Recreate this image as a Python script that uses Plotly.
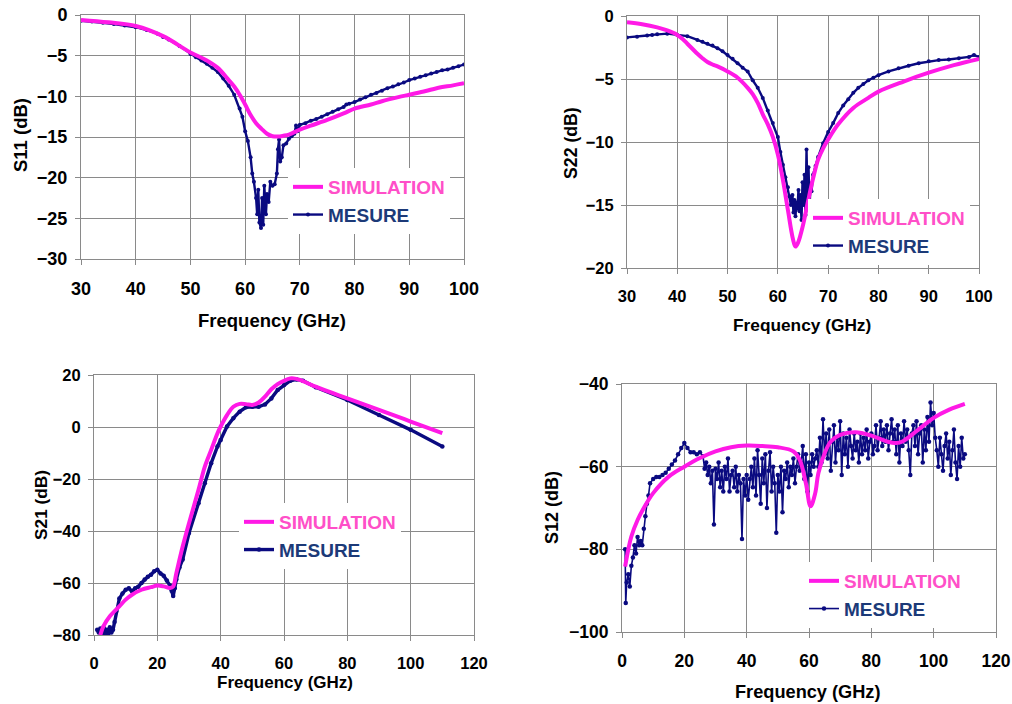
import plotly.graph_objects as go

# ---------------- DATA ----------------
# S11 (30-100 GHz)
s11_sim_f = [30, 35, 40, 45, 50, 53, 55, 57, 58, 59, 60, 61, 62, 63, 64, 65, 66, 67, 68, 70, 72, 75, 78, 80, 83, 85, 88, 90, 93, 95, 98, 100]
s11_sim_db = [-0.6, -0.9, -1.35, -2.6, -4.6, -5.6, -6.5, -8.0, -8.8, -9.8, -11.0, -12.3, -13.3, -14.0, -14.6, -14.9, -14.95, -14.85, -14.7, -14.1, -13.6, -12.9, -12.1, -11.5, -11.0, -10.6, -10.1, -9.8, -9.35, -9.0, -8.65, -8.4]
s11_mes_f = [30, 32, 34, 36, 38, 40, 42, 44, 45, 46, 48, 50, 51, 52, 53, 54, 55, 56, 57, 58, 59, 59.5, 60, 60.5, 61, 61.3, 61.6, 62, 62.2, 62.4, 62.6, 62.9, 63.1, 63.3, 63.5, 63.8, 64.0, 64.3, 64.6, 65.0, 65.4, 65.8, 66.0, 66.2, 66.4, 66.7, 67.0, 67.5, 68, 68.5, 69, 69.3, 69.6, 70, 71, 72, 73, 74, 75, 76, 77, 78, 78.5, 79, 80, 81, 82, 83, 84, 85, 86, 87, 88, 89, 90, 91, 92, 93, 94, 95, 96, 97, 98, 99, 100]
s11_mes_db = [-0.7, -0.8, -0.95, -1.1, -1.3, -1.5, -1.85, -2.3, -2.7, -3.0, -3.8, -4.8, -5.2, -5.6, -6.0, -6.5, -7.0, -7.8, -8.7, -9.8, -11.5, -12.5, -14.3, -15.5, -17.5, -19.5, -20.5, -22.5, -24.5, -21.5, -25.5, -26.2, -22.5, -25.8, -21.0, -24.5, -22.0, -23.0, -20.5, -21.0, -20.8, -19.5, -16.5, -15.3, -18.0, -17.5, -16.0, -15.8, -15.2, -14.9, -14.6, -13.6, -14.3, -13.5, -13.3, -13.0, -12.8, -12.5, -12.2, -11.9, -11.6, -11.3, -11.0, -10.9, -10.7, -10.4, -10.1, -9.8, -9.6, -9.3, -9.0, -8.8, -8.5, -8.3, -8.0, -7.8, -7.6, -7.4, -7.2, -7.0, -6.8, -6.7, -6.5, -6.3, -6.1]

# S22 (30-100 GHz)
s22_sim_f = [30, 33, 36, 38, 40, 41, 42, 43, 44, 45, 46, 47, 48, 50, 52, 54, 55, 56, 57, 58, 59, 60, 61, 62, 63, 63.5, 64, 65, 66, 67, 68, 69, 70, 72, 75, 78, 80, 85, 90, 95, 100]
s22_sim_db = [-0.5, -0.65, -0.9, -1.15, -1.5, -1.8, -2.2, -2.6, -3.0, -3.35, -3.65, -3.85, -4.0, -4.4, -4.9, -5.7, -6.2, -6.9, -7.8, -8.6, -9.6, -11.0, -13.0, -15.4, -17.7, -18.3, -18.0, -16.6, -14.7, -12.9, -11.4, -10.5, -9.8, -8.6, -7.3, -6.5, -6.0, -5.2, -4.5, -3.9, -3.4]
s22_mes_f = [30, 32, 34, 35, 36, 38, 40, 42, 44, 45, 46, 47, 48, 49, 50, 51, 52, 53, 54, 55, 56, 57, 58, 59, 60, 60.5, 61, 61.5, 62.0, 62.3, 62.6, 62.9, 63.1, 63.3, 63.5, 63.7, 63.9, 64.1, 64.3, 64.5, 64.7, 64.9, 65.1, 65.3, 65.5, 65.7, 65.9, 66.1, 66.3, 66.5, 66.7, 67, 67.5, 68, 69, 70, 71, 72, 73, 74, 75, 76, 77, 78, 79, 80, 82, 84, 86, 88, 90, 92, 94, 96, 98, 99, 100]
s22_mes_db = [-1.7, -1.65, -1.55, -1.5, -1.45, -1.4, -1.5, -1.6, -1.9, -2.05, -2.2, -2.35, -2.55, -2.8, -3.1, -3.4, -3.75, -4.1, -4.4, -5.1, -5.7, -6.5, -7.5, -8.5, -9.6, -10.8, -11.8, -12.8, -13.6, -14.3, -15.0, -14.2, -15.6, -14.6, -15.9, -14.8, -15.3, -13.8, -15.5, -14.2, -16.2, -13.2, -15.0, -12.6, -15.8, -10.6, -14.5, -12.0, -15.2, -13.3, -13.9, -12.6, -11.9, -11.2, -10.1, -9.2, -8.5, -7.7, -7.1, -6.6, -6.1, -5.7, -5.4, -5.1, -4.9, -4.7, -4.4, -4.15, -3.95, -3.75, -3.6, -3.5, -3.45, -3.35, -3.25, -3.1, -3.25]

# S21 (0-110 GHz)
s21_sim_f = [2, 3, 5, 8, 10, 12, 15, 18, 20, 22, 24, 25, 26, 28, 30, 33, 35, 37, 39, 40, 42, 44, 46, 48, 50, 52, 54, 56, 58, 60, 62, 63, 65, 70, 80, 90, 100, 110]
s21_sim_db = [-80, -76.6, -72.8, -69, -66.4, -64.5, -62.6, -61.6, -61, -61.3, -61.9, -61.3, -56.2, -46, -37, -24.2, -15.2, -8.8, -2.4, 0.2, 4.6, 7.8, 8.9, 8.8, 8.5, 9.4, 11.7, 14.5, 16.5, 17.8, 18.7, 18.7, 18.1, 15.5, 11, 6.6, 2.1, -2.4]
s21_mes_f = [1, 1.5, 2, 2.5, 3, 3.5, 4, 4.5, 5, 5.5, 6, 6.5, 7, 8, 9, 10, 11, 12, 13, 14, 15, 16, 17, 18, 19, 20, 21, 22, 23, 24, 24.5, 25, 25.5, 26, 27, 28, 30, 33, 35, 37, 39, 40, 42, 44, 46, 48, 50, 52, 54, 56, 58, 60, 62, 64, 66, 70, 80, 90, 100, 110]
s21_mes_db = [-78, -79, -77.5, -80, -77, -79.5, -78, -80, -77, -79, -78, -75, -71, -66, -64, -62.6, -62.0, -63.2, -62.0, -61.4, -60, -58.7, -57.6, -56.8, -55.5, -54.9, -56.3, -57.2, -59, -61, -63, -65, -62, -58.7, -54, -51, -40.8, -29.3, -21.6, -13.9, -7.5, -5, 0.2, 3.4, 5.9, 7.6, 7.8, 7.8, 8.7, 11, 14.2, 16.2, 17.8, 18.3, 17.8, 15.3, 10.4, 4.6, -1.1, -7.5]

# S12 (0-110 GHz)
s12_sim_f = [1, 2, 3, 5, 7, 10, 15, 20, 25, 30, 35, 40, 45, 50, 55, 57, 59, 60.5, 62, 63, 65, 67, 70, 75, 80, 85, 88, 90, 95, 100, 105, 110]
s12_sim_db = [-84.2, -80.1, -76.9, -72.9, -70, -66.4, -62.4, -60, -57.9, -56.3, -55.3, -54.9, -55, -55.3, -56.3, -58.3, -64, -69.6, -66.4, -61.6, -56.8, -53.9, -52.3, -51.7, -52.5, -53.9, -54.3, -53.9, -51.1, -48.2, -46.2, -44.8]
s12_mes_f = [1.0, 1.2, 1.5, 2, 2.5, 3, 3.5, 4, 4.5, 5, 5.5, 6, 6.5, 7, 7.5, 8, 8.5, 9, 10, 11, 12, 13, 14, 15, 16, 17, 18, 19, 20, 21, 22, 23, 24, 25,
             26.0, 26.5, 27.0, 27.5, 28.0, 28.5, 29.0, 29.5, 30.0, 30.5, 31.0, 31.5, 32.0, 32.5, 33.0, 33.5, 34.0, 34.5, 35.0, 35.5, 36.0, 36.5, 37.0, 37.5, 38.0, 38.5, 39.0, 39.5,
             40.0, 40.5, 41.0, 41.5, 42.0, 42.5, 43.0, 43.5, 44.0, 44.5, 45.0, 45.5, 46.0, 46.5, 47.0, 47.5, 48.0, 48.5, 49.0, 49.5, 50.0, 50.5, 51.0, 51.5, 52.0, 52.5, 53.0, 53.5,
             54.0, 54.5, 55.0, 55.5, 56.0, 56.5, 57.0, 57.5, 58.0, 58.5, 59.0, 59.5, 60.0, 60.5, 61.0, 61.5, 62.0, 62.5, 63.0, 63.5, 64.0, 64.5, 65.0, 65.5, 66.0, 66.5, 67.0, 67.5,
             68.0, 68.5, 69.0, 69.5, 70.0, 70.5, 71.0, 71.5, 72.0, 72.5, 73.0, 73.5, 74.0, 74.5, 75.0, 75.5, 76.0, 76.5, 77.0, 77.5, 78.0, 78.5, 79.0, 79.5, 80.0, 80.5, 81.0, 81.5,
             82.0, 82.5, 83.0, 83.5, 84.0, 84.5, 85.0, 85.5, 86.0, 86.5, 87.0, 87.5, 88.0, 88.5, 89.0, 89.5, 90.0, 90.5, 91.0, 91.5, 92.0, 92.5, 93.0, 93.5, 94.0, 94.5, 95.0, 95.5,
             96.0, 96.5, 97.0, 97.5, 98.0, 98.5, 99.0, 99.5, 100.0, 100.5, 101.0, 101.5, 102.0, 102.5, 103.0, 103.5, 104.0, 104.5, 105.0, 105.5, 106.0, 106.5, 107.0, 107.5, 108.0, 108.5, 109.0, 109.5, 110.0]
s12_mes_db = [-80, -93, -88, -86, -89, -84, -82, -79, -81, -77, -79, -78, -79, -75, -72, -69, -67, -64, -63, -62.5, -62.5, -62, -61.5, -60.5, -59.5, -58.5, -57, -55.5, -54.3, -55.5, -56.5, -56.5, -57, -56.5,
              -57.5, -60.5, -59, -62, -60, -64, -61, -74, -60.5, -63, -59, -65, -61, -66, -60, -63, -58, -66, -62, -61, -65, -60, -66, -62, -64, -77.5, -63, -67,
              -62, -68, -63, -60, -65, -58, -67, -56, -62, -69, -58, -64, -57, -70, -61, -56.5, -66, -60, -64, -76, -62, -66, -60, -71, -61, -63, -59, -65,
              -60, -62, -58, -64, -60, -57, -61, -59, -55, -63, -57, -66, -59, -62, -57, -60, -58, -56, -60, -53, -59, -48.5, -57, -52, -58, -51, -61, -54,
              -50, -59, -53, -56, -49, -62, -52, -57, -53, -60, -51, -55, -58, -52, -56, -54, -59, -52, -57, -53, -56, -51, -58, -54, -52, -57, -55, -50,
              -56, -53, -49, -55, -51, -54, -50, -56, -52, -48.5, -54, -51, -57, -50, -59, -52, -55, -49, -54, -51, -56, -62, -52, -50, -55, -49, -57, -52,
              -50, -59, -51, -56, -48, -54, -44.5, -50, -47, -53, -56, -60, -53, -57, -61, -55, -52, -58, -54, -62, -56, -51, -59, -63, -55, -60, -53, -58, -57]

# ---------------- STYLE ----------------
SIM_COLOR = "#ff19e6"
MES_COLOR = "#0a0a80"
SIM_TXT = "#ff4fc8"
MES_TXT = "#1c3a78"
FONT = "Liberation Sans, Arial, sans-serif"
GRID = "#8a8a8a"

W, H = 1012, 704

def px_x(p):
    return p / W

def px_y(p):
    return 1 - p / H

# panel plot areas in pixels: (left, right, top, bottom)
panels = [
    dict(box=(81, 464, 15, 259), xr=[30, 100], xd=10, yr=[-30, 0], yd=5, tickfs=18, mw=2.4, ms=4),
    dict(box=(627, 979, 16, 268), xr=[30, 100], xd=10, yr=[-20, 0], yd=5, tickfs=16.5, mw=2.4, ms=4),
    dict(box=(94, 474, 375, 635), xr=[0, 120], xd=20, yr=[-80, 20], yd=20, tickfs=16.5, mw=3.4, ms=4.5),
    dict(box=(622, 996, 384, 632), xr=[0, 120], xd=20, yr=[-100, -40], yd=20, tickfs=17.5, mw=1.6, ms=4.5),
]

fig = go.Figure()

series = [
    (s11_sim_f, s11_sim_db, s11_mes_f, s11_mes_db),
    (s22_sim_f, s22_sim_db, s22_mes_f, s22_mes_db),
    (s21_sim_f, s21_sim_db, s21_mes_f, s21_mes_db),
    (s12_sim_f, s12_sim_db, s12_mes_f, s12_mes_db),
]

legend_pos = [(288, 168), (808, 199), (239, 503), (804, 562)]

for i, (sf, sd, mf, md) in enumerate(series):
    n = "" if i == 0 else str(i + 1)
    xa, ya = "x" + n, "y" + n
    lg = "legend" + n
    p = panels[i]
    fig.add_trace(go.Scatter(
        x=mf, y=md, xaxis=xa, yaxis=ya, mode="lines+markers",
        line=dict(color=MES_COLOR, width=p["mw"]), marker=dict(color=MES_COLOR, size=p["ms"]),
        name=f"<span style='color:{MES_TXT}'>MESURE</span>", legend=lg, legendrank=2,
        legendgroup=f"m{i}"))
    fig.add_trace(go.Scatter(
        x=sf, y=sd, xaxis=xa, yaxis=ya, mode="lines", line_shape="spline",
        line=dict(color=SIM_COLOR, width=4),
        name=f"<span style='color:{SIM_TXT}'>SIMULATION</span>", legend=lg, legendrank=1,
        legendgroup=f"s{i}"))

layout = dict(
    width=W, height=H, margin=dict(l=0, r=0, t=0, b=0, autoexpand=False),
    paper_bgcolor="white", plot_bgcolor="white",
    font=dict(family=FONT, size=16, color="black"),
)

for i, p in enumerate(panels):
    n = "" if i == 0 else str(i + 1)
    l, r, t, b = p["box"]
    common = dict(showgrid=True, gridcolor=GRID, gridwidth=1, showline=True, linecolor=GRID,
                  linewidth=1, mirror=True, ticks="outside", ticklen=5, tickcolor=GRID,
                  zeroline=False, automargin=False, ticklabeloverflow="allow",
                  tickfont=dict(family=FONT, size=p["tickfs"], color="black", weight="bold"))
    layout["xaxis" + n] = dict(domain=[px_x(l), px_x(r)], range=p["xr"], dtick=p["xd"], tick0=0,
                               anchor="y" + n, ticklabelstandoff=8, **common)
    layout["yaxis" + n] = dict(domain=[px_y(b), px_y(t)], range=p["yr"], dtick=p["yd"], tick0=0,
                               anchor="x" + n, ticklabelstandoff=4, **common)
    lx, ly = legend_pos[i]
    layout["legend" + n] = dict(x=px_x(lx), y=px_y(ly), xanchor="left", yanchor="top",
                                bgcolor="white", borderwidth=0, tracegroupgap=4,
                                font=dict(family=FONT, size=19, weight="bold"),
                                traceorder="normal", itemwidth=30)

fig.update_layout(**layout)

# axis titles
titles = [
    ("Frequency (GHz)", 272, 320, 0, 18.5), ("S11 (dB)", 20, 135, -90, 18.5),
    ("Frequency (GHz)", 802, 325, 0, 17.3), ("S22 (dB)", 571, 143, -90, 17.7),
    ("Frequency (GHz)", 285, 682, 0, 17), ("S21 (dB)", 41, 505, -90, 17.3),
    ("Frequency (GHz)", 808, 692, 0, 18.2), ("S12 (dB)", 552, 508, -90, 18),
]
for txt, x, y, ang, fs in titles:
    fig.add_annotation(text=txt, x=px_x(x), y=px_y(y), xref="paper", yref="paper",
                       xanchor="center", yanchor="middle", showarrow=False, textangle=ang,
                       font=dict(family=FONT, size=fs, color="black", weight="bold"))

# remove the browser's default page margin so the figure sits at the window's top-left
fig.write_html("out.html", config={"displayModeBar": False},
               post_script="document.body.style.margin='0';document.body.style.overflow='hidden';")
